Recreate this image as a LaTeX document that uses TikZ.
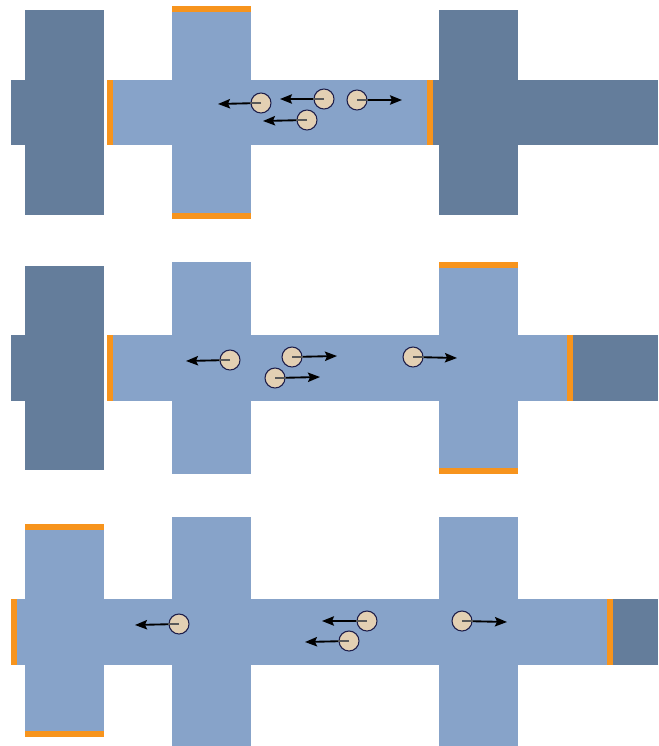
\documentclass[tikz,border=0pt]{standalone}
\usetikzlibrary{arrows.meta}
\definecolor{darkblk}{HTML}{647D9B}
\definecolor{lightblk}{HTML}{87A3C9}
\definecolor{gatec}{HTML}{F7941D}
\definecolor{partfill}{HTML}{E3D0B3}
\definecolor{partline}{HTML}{1E1E4A}
\tikzset{
  darkpart/.style={fill=darkblk},
  lightpart/.style={fill=lightblk},
  gate/.style={fill=gatec},
  particle/.style={circle,draw=partline,fill=partfill,line width=0.8pt,minimum size=15pt,inner sep=0pt},
  mvarrow/.style={draw=black,line width=1.4pt,-{Stealth[length=9pt,width=7pt,inset=1.5pt]}},
  innerline/.style={draw=black!65,line width=0.9pt}
}
\begin{document}
\begin{tikzpicture}[x=0.75pt,y=-0.75pt]
\useasboundingbox (0,0) rectangle (658,746);
\fill[white] (0,0) rectangle (658,746);
% ---------------- Panel 1 ----------------
\fill[darkpart] (25,10) rectangle (104,215);
\fill[darkpart] (11,80) rectangle (104,145);
\fill[lightpart] (113,80) rectangle (428,145);
\fill[lightpart] (172,6) rectangle (251,219);
\fill[gate] (172,6) rectangle (251,12);
\fill[gate] (172,213) rectangle (251,219);
\fill[gate] (107,80) rectangle (113,145);
\fill[gate] (427,80) rectangle (433,145);
\fill[darkpart] (439,10) rectangle (518,215);
\fill[darkpart] (433,80) rectangle (658,145);
\coordinate (a1c) at (261,103);
\coordinate (a2c) at (324,99);
\coordinate (a3c) at (307,120);
\coordinate (a4c) at (357,100);
\coordinate (a1e) at (218,104);
\coordinate (a2e) at (280,99);
\coordinate (a3e) at (263,121);
\coordinate (a4e) at (402,100);
\draw[mvarrow] (a1c) -- (a1e);
\draw[mvarrow] (a2c) -- (a2e);
\draw[mvarrow] (a3c) -- (a3e);
\draw[mvarrow] (a4c) -- (a4e);
\node[particle] (a1) at (a1c) {};
\node[particle] (a2) at (a2c) {};
\node[particle] (a3) at (a3c) {};
\node[particle] (a4) at (a4c) {};
\draw[innerline] (a1.center) -- (a1.west);
\draw[innerline] (a2.center) -- (a2.west);
\draw[innerline] (a3.center) -- (a3.west);
\draw[innerline] (a4.center) -- (a4.east);
% ---------------- Panel 2 ----------------
\fill[darkpart] (25,266) rectangle (104,470);
\fill[darkpart] (11,335) rectangle (104,401);
\fill[lightpart] (113,335) rectangle (568,401);
\fill[lightpart] (172,262) rectangle (251,474);
\fill[lightpart] (439,262) rectangle (518,474);
\fill[gate] (439,262) rectangle (518,268);
\fill[gate] (439,468) rectangle (518,474);
\fill[gate] (107,335) rectangle (113,401);
\fill[gate] (567,335) rectangle (573,401);
\fill[darkpart] (573,335) rectangle (658,401);
\coordinate (b1c) at (230,360);
\coordinate (b2c) at (292,357);
\coordinate (b3c) at (275,378);
\coordinate (b4c) at (413,357);
\coordinate (b1e) at (186,361);
\coordinate (b2e) at (337,356);
\coordinate (b3e) at (320,377);
\coordinate (b4e) at (457,358);
\draw[mvarrow] (b1c) -- (b1e);
\draw[mvarrow] (b2c) -- (b2e);
\draw[mvarrow] (b3c) -- (b3e);
\draw[mvarrow] (b4c) -- (b4e);
\node[particle] (b1) at (b1c) {};
\node[particle] (b2) at (b2c) {};
\node[particle] (b3) at (b3c) {};
\node[particle] (b4) at (b4c) {};
\draw[innerline] (b1.center) -- (b1.west);
\draw[innerline] (b2.center) -- (b2.east);
\draw[innerline] (b3.center) -- (b3.east);
\draw[innerline] (b4.center) -- (b4.east);
% ---------------- Panel 3 ----------------
\fill[lightpart] (25,524) rectangle (104,737);
\fill[lightpart] (17,599) rectangle (104,665);
\fill[gate] (25,524) rectangle (104,530);
\fill[gate] (25,731) rectangle (104,737);
\fill[gate] (11,599) rectangle (17,665);
\fill[lightpart] (104,599) rectangle (608,665);
\fill[lightpart] (172,517) rectangle (251,746);
\fill[lightpart] (439,517) rectangle (518,746);
\fill[gate] (607,599) rectangle (613,665);
\fill[darkpart] (613,599) rectangle (658,665);
\coordinate (c1c) at (179,624);
\coordinate (c2c) at (367,621);
\coordinate (c3c) at (349,641);
\coordinate (c4c) at (462,621);
\coordinate (c1e) at (135,625);
\coordinate (c2e) at (322,621);
\coordinate (c3e) at (305,642);
\coordinate (c4e) at (507,622);
\draw[mvarrow] (c1c) -- (c1e);
\draw[mvarrow] (c2c) -- (c2e);
\draw[mvarrow] (c3c) -- (c3e);
\draw[mvarrow] (c4c) -- (c4e);
\node[particle] (c1) at (c1c) {};
\node[particle] (c2) at (c2c) {};
\node[particle] (c3) at (c3c) {};
\node[particle] (c4) at (c4c) {};
\draw[innerline] (c1.center) -- (c1.west);
\draw[innerline] (c2.center) -- (c2.west);
\draw[innerline] (c3.center) -- (c3.west);
\draw[innerline] (c4.center) -- (c4.east);
\end{tikzpicture}
\end{document}
